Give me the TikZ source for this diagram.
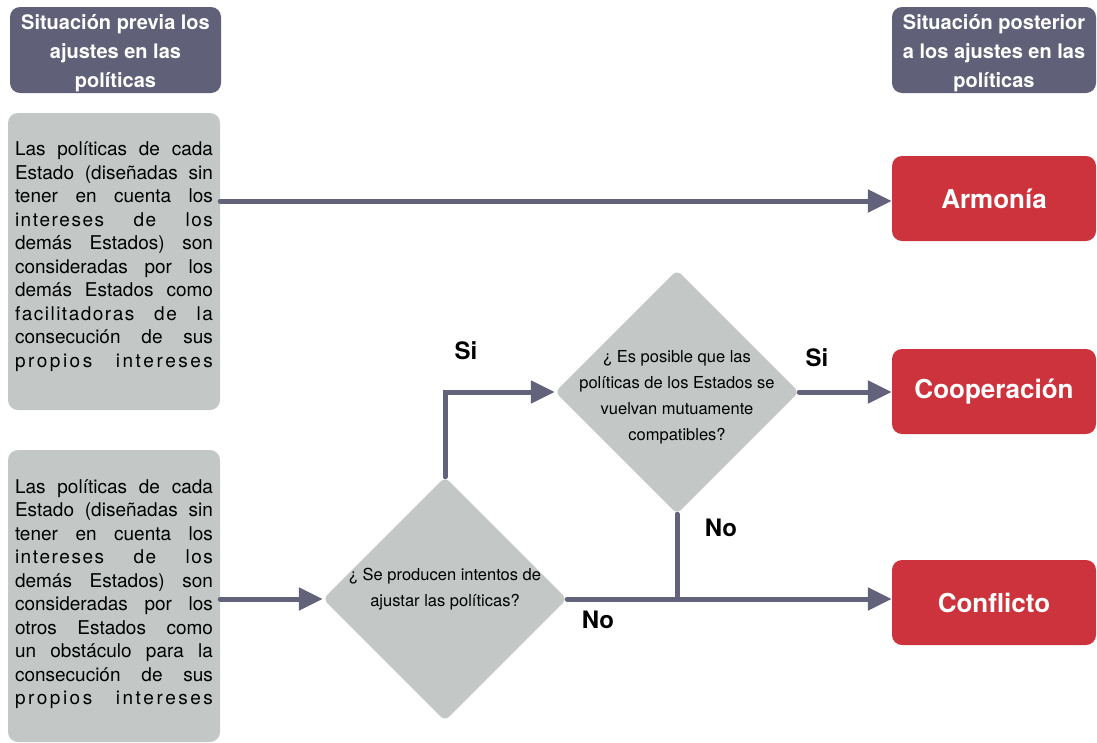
\documentclass[tikz,border=0pt]{standalone}
\usepackage{fontspec}
\setmainfont{TeX Gyre Heros}
\usetikzlibrary{shapes.geometric,arrows.meta}
\definecolor{hdr}{RGB}{96,97,120}
\definecolor{boxg}{RGB}{195,200,199}
\definecolor{redb}{RGB}{204,51,60}
\definecolor{arrc}{RGB}{98,99,122}
\newcommand\jline[1]{\leavevmode\hbox to 198pt{#1}}
\newcommand\wg{\hfill}
\newcommand\lsp{\hskip 1.5pt\relax}
\newcommand\ssp{\hskip 2.5pt\relax}
\newcommand\wsp{\hfill}
\begin{document}
\begin{tikzpicture}[x=1pt,y=-1pt,
  hdrbox/.style={fill=hdr, rounded corners=10pt, minimum height=86pt, inner sep=0pt},
  hdrtext/.style={text=white, font=\bfseries\fontsize{20}{29}\selectfont, align=center, inner sep=0pt},
  txtbox/.style={fill=boxg, rounded corners=10pt, minimum width=212pt, inner sep=0pt},
  bodytext/.style={text=black, font=\fontsize{19}{23.5}\selectfont, align=flush left, text width=198pt, inner sep=0pt},
  resbox/.style={fill=redb, rounded corners=10pt, text=white, font=\bfseries\fontsize{26}{30}\selectfont, minimum width=204pt, minimum height=85pt, inner sep=0pt},
  decbox/.style={diamond, fill=boxg, rounded corners=6pt, minimum width=244pt, minimum height=244pt, inner sep=0pt},
  qtext/.style={font=\fontsize{16.5}{26}\selectfont, align=center, inner sep=0pt},
  lbl/.style={font=\bfseries\fontsize{24}{28}\selectfont, inner sep=0pt},
  arr/.style={draw=arrc, line width=5pt, line cap=round, -{Triangle[length=24pt,width=22pt]}},
  plain/.style={draw=arrc, line width=5pt, line cap=round}
]
\fill[white] (0,0) rectangle (1097,742);
\useasboundingbox (0,0) rectangle (1097,742);

\node[hdrbox, minimum width=211pt] (hl) at (115.5,50) {};
\node[hdrtext] (hlt) at (115.5,53) {Situación previa los\\ajustes en las\\políticas};
\node[hdrbox, minimum width=204pt] (hr) at (994,50) {};
\node[hdrtext] (hrt) at (994,53) {Situación posterior\\a los ajustes en las\\políticas};

\node[txtbox, minimum height=297pt] (b1) at (114,261.5) {};
\node[bodytext] (t1) at (114,256.5) {%
\jline{Las\wg políticas\wg de\wg cada}\\
\jline{Estado\wg (diseñadas\wg sin}\\
\jline{tener\wg en\wg cuenta\wg los}\\
\jline{i\lsp n\lsp t\lsp e\lsp r\lsp e\lsp s\lsp e\lsp s\wsp d\lsp e\wsp l\lsp o\lsp s}\\
\jline{demás\wg Estados)\wg son}\\
\jline{consideradas\wg por\wg los}\\
\jline{demás\wg Estados\wg como}\\
\jline{f\lsp a\lsp c\lsp i\lsp l\lsp i\lsp t\lsp a\lsp d\lsp o\lsp r\lsp a\lsp s\wsp d\lsp e\wsp l\lsp a}\\
\jline{consecución\wg de\wg sus}\\
\jline{p\ssp r\ssp o\ssp p\ssp i\ssp o\ssp s\wsp i\ssp n\ssp t\ssp e\ssp r\ssp e\ssp s\ssp e\ssp s}};

\node[txtbox, minimum height=292pt] (b2) at (114,596) {};
\node[bodytext] (t2) at (114,594) {%
\jline{Las\wg políticas\wg de\wg cada}\\
\jline{Estado\wg (diseñadas\wg sin}\\
\jline{tener\wg en\wg cuenta\wg los}\\
\jline{i\lsp n\lsp t\lsp e\lsp r\lsp e\lsp s\lsp e\lsp s\wsp d\lsp e\wsp l\lsp o\lsp s}\\
\jline{demás\wg Estados)\wg son}\\
\jline{consideradas\wg por\wg los}\\
\jline{otros\wg Estados\wg como}\\
\jline{un\wg obstáculo\wg para\wg la}\\
\jline{consecución\wg de\wg sus}\\
\jline{p\ssp r\ssp o\ssp p\ssp i\ssp o\ssp s\wsp i\ssp n\ssp t\ssp e\ssp r\ssp e\ssp s\ssp e\ssp s}};

\node[resbox] (arm) at (994,198.5) {Armonía};
\node[resbox] (coop) at (994,391.5) {Cooperación};
\node[resbox] (conf) at (994,602.5) {Conflicto};

\node[decbox] (d1) at (445,599) {};
\node[decbox] (d2) at (677,392) {};
\node[qtext] (q1) at (445,589) {¿ Se producen intentos de\\ajustar las políticas?};
\node[qtext] (q2) at (677,397) {¿ Es posible que las\\políticas de los Estados se\\vuelvan mutuamente\\compatibles?};

\node[lbl] (si1) at (466,351) {Si};
\node[lbl] (si2) at (817,358) {Si};
\node[lbl] (no1) at (721,528) {No};
\node[lbl] (no2) at (598,620) {No};

\draw[arr] (b1.east |- 0,201) -- (arm.west |- 0,201);
\draw[arr] (b2.east |- d1.west) -- (d1.west);
\draw[arr] (d1.north) |- (d2.west);
\draw[arr] (d2.east) -- (d2.east -| coop.west);
\draw[arr] (d1.east) -- (d1.east -| conf.west);
\draw[plain] (d2.south) -- (d2.south |- d1.east);
\end{tikzpicture}
\end{document}
